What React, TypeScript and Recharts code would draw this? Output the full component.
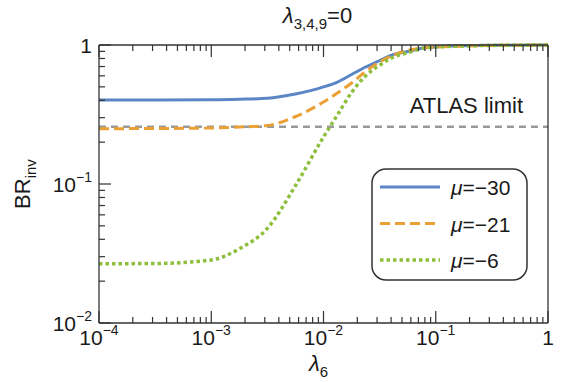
import React from "react";
import { LineChart, Line, XAxis, YAxis, ReferenceLine, Legend } from "recharts";

// lambda_6 sample points (log spaced)
const lambda6 = [
  1e-4, 3.16e-4, 1e-3, 1.78e-3, 3.16e-3, 5.62e-3, 1e-2, 1.33e-2, 1.78e-2,
  2.37e-2, 3.16e-2, 4.22e-2, 5.62e-2, 7.5e-2, 0.1, 0.178, 0.316, 1,
];
const brMu30 = [
  0.402, 0.402, 0.4035, 0.407, 0.4136, 0.444, 0.4995, 0.5417, 0.6135,
  0.6945, 0.7735, 0.857, 0.898, 0.947, 0.967, 0.987, 0.995, 0.999,
];
const brMu21 = [
  0.25, 0.2508, 0.2528, 0.257, 0.2636, 0.3054, 0.389, 0.4515, 0.5329,
  0.6447, 0.7546, 0.8474, 0.913, 0.9515, 0.967, 0.9836, 0.9934, 0.999,
];
const brMu6 = [
  0.0267, 0.0268, 0.0284, 0.0342, 0.0479, 0.0972, 0.2179, 0.3136, 0.456,
  0.5984, 0.7155, 0.821, 0.879, 0.944, 0.967, 0.9836, 0.9934, 0.999,
];
const atlasLimit = 0.258;

const xMajor = [1e-4, 1e-3, 1e-2, 1e-1, 1];
const yMajor = [1e-2, 1e-1, 1];

const withMinors = (majors: number[]) => {
  const out: number[] = [];
  majors.forEach((m, i) => {
    out.push(m);
    if (i < majors.length - 1) for (let k = 2; k <= 9; k++) out.push(+(m * k).toPrecision(6));
  });
  return out;
};
const xTicks = withMinors(xMajor);
const yTicks = withMinors(yMajor);

const data = lambda6.map((x, i) => ({
  x,
  mu30: brMu30[i],
  mu21: brMu21[i],
  mu6: brMu6[i],
}));

const series = [
  { key: "mu30", label: "−30", color: "#5b86c6", dash: undefined, width: 3 },
  { key: "mu21", label: "−21", color: "#eaa035", dash: "10 5", width: 3 },
  { key: "mu6", label: "−6", color: "#8dbf3c", dash: "3.5 3", width: 3.5 },
];

const FONT = "'Liberation Sans', Arial, sans-serif";
const INK = "#333333";
const TXT = "#1a1a1a";

const isMajor = (v: number) => {
  const l = Math.log10(v);
  return Math.abs(l - Math.round(l)) < 1e-9;
};
const tickLen = (v: number) => (isMajor(v) ? 12 : 6);

const Pow = ({ x, y, v, anchor }: any) => {
  const e = Math.round(Math.log10(v));
  return (
    <text x={x} y={y} textAnchor={anchor} fontSize={21} fill={TXT} fontFamily={FONT}>
      {e === 0 ? (
        "1"
      ) : (
        <>
          <tspan>10</tspan>
          <tspan dy={-10} fontSize={14}>{"−" + -e}</tspan>
        </>
      )}
    </text>
  );
};

// tick marks drawn as thin filled bars pointing into the plot
const BottomTick = ({ x, y, payload }: any) => {
  const v = payload.value;
  return (
    <g>
      <rect x={x - 0.6} y={y - tickLen(v)} width={1.2} height={tickLen(v)} fill={INK} />
      {isMajor(v) && <Pow x={x} y={y + 22} v={v} anchor="middle" />}
    </g>
  );
};

const TopTick = ({ x, y, payload }: any) => (
  <rect x={x - 0.6} y={y} width={1.2} height={tickLen(payload.value)} fill={INK} />
);

const LeftTick = ({ x, y, payload }: any) => {
  const v = payload.value;
  return (
    <g>
      <rect x={x} y={y - 0.6} width={tickLen(v)} height={1.2} fill={INK} />
      {isMajor(v) && <Pow x={x - 7} y={y + 8} v={v} anchor="end" />}
    </g>
  );
};

const RightTick = ({ x, y, payload }: any) => (
  <rect x={x - tickLen(payload.value)} y={y - 0.6} width={tickLen(payload.value)} height={1.2} fill={INK} />
);

const LegendBox = () => (
  <svg width={158} height={114}>
    <rect x={1} y={1} width={155} height={111} rx={14} fill="#fff" stroke={INK} strokeWidth={1.5} />
    {series.map((s, i) => {
      const cy = 19 + i * 36.5;
      return (
        <g key={s.key}>
          <line x1={9} x2={69} y1={cy} y2={cy} stroke={s.color} strokeWidth={s.width} strokeDasharray={s.dash} />
          <text x={80} y={cy + 8} fontSize={21} fill={TXT} fontFamily={FONT}>
            <tspan fontStyle="italic">μ</tspan>
            <tspan>{"=" + s.label}</tspan>
          </text>
        </g>
      );
    })}
  </svg>
);

export default function App() {
  return (
    <div style={{ position: "absolute", left: 0, top: 0, width: 567, height: 383 }}>
      <LineChart
        width={567}
        height={383}
        data={data}
        margin={{ top: 44, right: 18, bottom: 0, left: 0 }}
      >
        <XAxis
          xAxisId="b"
          dataKey="x"
          type="number"
          scale="log"
          domain={[1e-4, 1]}
          ticks={xTicks}
          interval={0}
          tickSize={0}
          tickMargin={0}
          tickLine={false}
          tick={<BottomTick />}
          height={60}
          axisLine={{ stroke: INK, strokeWidth: 1.3 }}
          label={{
            content: ({ viewBox }: any) => (
              <text
                x={viewBox.x + viewBox.width / 2 - 5}
                y={viewBox.y + 48}
                textAnchor="middle"
                fontSize={22}
                fill={TXT}
                fontFamily={FONT}
              >
                <tspan fontStyle="italic">λ</tspan>
                <tspan dy={6} fontSize={15}>6</tspan>
              </text>
            ),
          }}
        />
        <XAxis
          xAxisId="t"
          orientation="top"
          dataKey="x"
          type="number"
          scale="log"
          domain={[1e-4, 1]}
          ticks={xTicks}
          interval={0}
          tickSize={0}
          tickMargin={0}
          tickLine={false}
          tick={<TopTick />}
          height={1}
          axisLine={{ stroke: INK, strokeWidth: 1.3 }}
          label={{
            content: ({ viewBox }: any) => (
              <text
                x={viewBox.x + viewBox.width / 2 - 6}
                y={viewBox.y - 21}
                textAnchor="middle"
                fontSize={22}
                fill={TXT}
                fontFamily={FONT}
              >
                <tspan fontStyle="italic">λ</tspan>
                <tspan dy={6} fontSize={15}>3,4,9</tspan>
                <tspan dy={-6}>=0</tspan>
              </text>
            ),
          }}
        />
        <YAxis
          yAxisId="l"
          type="number"
          scale="log"
          domain={[0.01, 1]}
          ticks={yTicks}
          interval={0}
          tickSize={0}
          tickMargin={0}
          tickLine={false}
          tick={<LeftTick />}
          width={99}
          axisLine={{ stroke: INK, strokeWidth: 1.3 }}
          label={{
            content: ({ viewBox }: any) => {
              const cx = 30;
              const cy = viewBox.y + viewBox.height / 2;
              return (
                <text
                  x={cx}
                  y={cy}
                  transform={`rotate(-90, ${cx}, ${cy})`}
                  textAnchor="middle"
                  fontSize={22}
                  fill={TXT}
                  fontFamily={FONT}
                >
                  <tspan>BR</tspan>
                  <tspan dy={6} fontSize={15}>inv</tspan>
                </text>
              );
            },
          }}
        />
        <YAxis
          yAxisId="r"
          orientation="right"
          type="number"
          scale="log"
          domain={[0.01, 1]}
          ticks={yTicks}
          interval={0}
          tickSize={0}
          tickMargin={0}
          tickLine={false}
          tick={<RightTick />}
          width={1}
          axisLine={{ stroke: INK, strokeWidth: 1.3 }}
        />
        <ReferenceLine
          xAxisId="b"
          yAxisId="l"
          y={atlasLimit}
          stroke="#999"
          strokeWidth={2.5}
          strokeDasharray="7 5"
          label={{
            content: ({ viewBox }: any) => (
              <text
                x={viewBox.x + viewBox.width - 25}
                y={viewBox.y - 14}
                textAnchor="end"
                fontSize={22}
                fill={TXT}
                fontFamily={FONT}
              >
                ATLAS limit
              </text>
            ),
          }}
        />
        {series.map((s) => (
          <Line
            key={s.key}
            xAxisId="b"
            yAxisId="l"
            dataKey={s.key}
            type="monotone"
            stroke={s.color}
            strokeWidth={s.width}
            strokeDasharray={s.dash}
            dot={false}
            isAnimationActive={false}
          />
        ))}
        <Legend
          layout="vertical"
          align="center"
          verticalAlign="middle"
          content={() => <LegendBox />}
          wrapperStyle={{ left: 371, top: 168, width: 158, height: 114, right: "auto", bottom: "auto" }}
        />
      </LineChart>
    </div>
  );
}
